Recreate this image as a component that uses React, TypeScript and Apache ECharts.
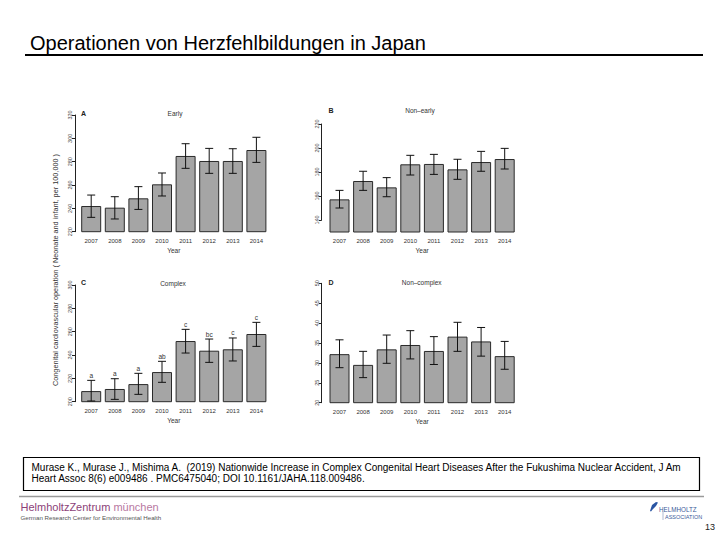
import React, { useEffect, useRef } from "react";
import * as echarts from "echarts";

const years = ["2007", "2008", "2009", "2010", "2011", "2012", "2013", "2014"];

const earlyValues = [242, 240.6, 248.6, 260.6, 284.9, 280.6, 280.6, 290];
const earlyLow = [232.3, 230.9, 239.1, 250.6, 274.3, 270, 270, 279.4];
const earlyHigh = [251.4, 250, 258.6, 270.3, 295.4, 291.4, 291.1, 300.9];
const earlyTicks = [220, 240, 260, 280, 300, 320];

const nonEarlyValues = [157.2, 172.5, 167.2, 186.4, 186.7, 182.2, 188.3, 190.8];
const nonEarlyLow = [150, 164.7, 159.4, 177.5, 178, 173.9, 180.6, 182.5];
const nonEarlyHigh = [164.7, 180.6, 175.3, 193.9, 194.7, 190.6, 197.2, 199.7];
const nonEarlyTicks = [140, 160, 180, 200, 220];

const complexValues = [209.1, 210.9, 215.1, 225.4, 252, 243.7, 244.9, 258];
const complexLow = [200.6, 202, 206.3, 216.6, 241.7, 233.7, 234.9, 247.4];
const complexHigh = [218.3, 219.7, 224.3, 234.6, 262, 253.7, 254.6, 268];
const complexLetters = ["a", "a", "a", "ab", "c", "bc", "c", "c"];
const complexTicks = [200, 220, 240, 260, 280, 300];

const nonComplexValues = [32.2, 29.5, 33.4, 34.5, 33.0, 36.6, 35.4, 31.7];
const nonComplexLow = [28.8, 26.3, 29.9, 31.0, 29.6, 32.9, 31.7, 28.4];
const nonComplexHigh = [35.8, 32.9, 37.0, 38.1, 36.6, 40.2, 38.9, 35.4];
const nonComplexTicks = [20, 25, 30, 35, 40, 45, 50];

const slideTitle = "Operationen von Herzfehlbildungen in Japan";
const yAxisTitle = "Congenital cardiovascular operation ( Neonate and infant, per 100,000 )";
const citationLine1 =
  "Murase K., Murase J., Mishima A.  (2019) Nationwide Increase in Complex Congenital Heart Diseases After the Fukushima Nuclear Accident, J Am";
const citationLine2 = "Heart Assoc 8(6) e009486 . PMC6475040; DOI 10.1161/JAHA.118.009486.";

const FONT = "'Liberation Sans', Arial, Helvetica, sans-serif";
const PANEL_W = 188.8;

type Panel = {
  letter: string;
  title: string;
  values: number[];
  low: number[];
  high: number[];
  letters?: string[];
  ticks: number[];
  barMin: number;
  barLeft: number;
  axisX: number;
  tickTop: number;
  tickBottom: number;
  titleX: number;
  titleY: number;
  letterX: number;
  letterY: number;
};

const panels: Panel[] = [
  {
    letter: "A", title: "Early", values: earlyValues, low: earlyLow, high: earlyHigh,
    ticks: earlyTicks, barMin: 220, barLeft: 79.4, axisX: 75, tickTop: 115, tickBottom: 231.7,
    titleX: 175, titleY: 113, letterX: 81, letterY: 113.3,
  },
  {
    letter: "B", title: "Non–early", values: nonEarlyValues, low: nonEarlyLow, high: nonEarlyHigh,
    ticks: nonEarlyTicks, barMin: 130, barLeft: 327.7, axisX: 321.7, tickTop: 124, tickBottom: 220,
    titleX: 420, titleY: 110, letterX: 328.5, letterY: 110,
  },
  {
    letter: "C", title: "Complex", values: complexValues, low: complexLow, high: complexHigh,
    letters: complexLetters, ticks: complexTicks, barMin: 200, barLeft: 79.4, axisX: 75,
    tickTop: 285, tickBottom: 401.7, titleX: 173, titleY: 283, letterX: 81, letterY: 282.7,
  },
  {
    letter: "D", title: "Non–complex", values: nonComplexValues, low: nonComplexLow, high: nonComplexHigh,
    ticks: nonComplexTicks, barMin: 20, barLeft: 327.7, axisX: 321.7, tickTop: 283.3, tickBottom: 402.7,
    titleX: 421.7, titleY: 282, letterX: 328.5, letterY: 282.7,
  },
];

function buildOption() {
  const grid: any[] = [];
  const xAxis: any[] = [];
  const yAxis: any[] = [];
  const series: any[] = [];
  const graphic: any[] = [];

  panels.forEach((p, i) => {
    const gb = i * 2;
    const ga = i * 2 + 1;
    const tMin = p.ticks[0];
    const tMax = p.ticks[p.ticks.length - 1];
    const step = p.ticks[1] - p.ticks[0];
    const pxPerUnit = (p.tickBottom - p.tickTop) / (tMax - tMin);
    const barHeight = (tMax - p.barMin) * pxPerUnit;

    grid.push({ left: p.barLeft, top: p.tickTop, width: PANEL_W, height: barHeight });
    grid.push({ left: p.axisX, top: p.tickTop, width: 2, height: p.tickBottom - p.tickTop });

    xAxis.push({
      type: "category",
      gridIndex: gb,
      data: years,
      axisLine: { show: false },
      axisTick: { show: false },
      axisLabel: { fontSize: 6, color: "#333", margin: 6, fontFamily: FONT },
      name: "Year",
      nameLocation: "middle",
      nameGap: 15,
      nameTextStyle: { fontSize: 6.5, color: "#333", fontFamily: FONT },
    });
    yAxis.push({ type: "value", gridIndex: gb, min: p.barMin, max: tMax, show: false });

    xAxis.push({ type: "value", gridIndex: ga, show: false, min: 0, max: 1 });
    yAxis.push({
      type: "value",
      gridIndex: ga,
      min: tMin,
      max: tMax,
      interval: step,
      axisLine: { show: true, lineStyle: { color: "#222", width: 1 } },
      axisTick: { show: true, length: 3, lineStyle: { color: "#222", width: 1 } },
      axisLabel: { rotate: 90, fontSize: 5.5, margin: 2, color: "#444", fontFamily: FONT },
      splitLine: { show: false },
    });

    series.push({
      type: "bar",
      xAxisIndex: gb,
      yAxisIndex: gb,
      data: p.values,
      barWidth: 20,
      silent: true,
      itemStyle: { color: "#a5a5a5", borderColor: "#2a2a2a", borderWidth: 1 },
    });

    const letters = p.letters;
    series.push({
      type: "custom",
      xAxisIndex: gb,
      yAxisIndex: gb,
      z: 5,
      silent: true,
      data: p.values.map((_, k) => [k, p.low[k], p.high[k]]),
      renderItem: (params: any, api: any) => {
        const k = api.value(0);
        const lo = api.coord([k, api.value(1)]);
        const hi = api.coord([k, api.value(2)]);
        const x = lo[0];
        const style = { stroke: "#111", lineWidth: 1 };
        const children: any[] = [
          { type: "line", shape: { x1: x, y1: lo[1], x2: x, y2: hi[1] }, style },
          { type: "line", shape: { x1: x - 4, y1: lo[1], x2: x + 4, y2: lo[1] }, style },
          { type: "line", shape: { x1: x - 4, y1: hi[1], x2: x + 4, y2: hi[1] }, style },
        ];
        if (letters) {
          children.push({
            type: "text",
            x,
            y: hi[1] - 1.5,
            style: {
              text: letters[params.dataIndex],
              align: "center",
              verticalAlign: "bottom",
              fontSize: 6.5,
              fontFamily: FONT,
              fill: "#333",
            },
          });
        }
        return { type: "group", children };
      },
    });

    graphic.push({
      type: "text",
      x: p.titleX,
      y: p.titleY,
      style: { text: p.title, align: "center", verticalAlign: "middle", fontSize: 6.5, fontFamily: FONT, fill: "#333" },
    });
    graphic.push({
      type: "text",
      x: p.letterX,
      y: p.letterY,
      style: { text: p.letter, align: "left", verticalAlign: "middle", fontSize: 7, fontWeight: "bold", fontFamily: FONT, fill: "#222" },
    });
  });

  // slide decorations
  graphic.push(
    {
      type: "text",
      x: 30,
      y: 43,
      style: { text: slideTitle, align: "left", verticalAlign: "middle", fontSize: 20, fontFamily: FONT, fill: "#000" },
    },
    { type: "line", shape: { x1: 25, y1: 55, x2: 703, y2: 55 }, style: { stroke: "#000", lineWidth: 2 } },
    {
      type: "text",
      x: 55,
      y: 270,
      rotation: Math.PI / 2,
      style: { text: yAxisTitle, align: "center", verticalAlign: "middle", fontSize: 7.3, fontFamily: FONT, fill: "#333" },
    },
    {
      type: "rect",
      shape: { x: 23.5, y: 457.5, width: 676, height: 33 },
      style: { fill: "none", stroke: "#000", lineWidth: 1.2 },
    },
    {
      type: "text",
      x: 31.5,
      y: 467.7,
      style: { text: citationLine1, align: "left", verticalAlign: "middle", fontSize: 10, fontFamily: FONT, fill: "#000" },
    },
    {
      type: "text",
      x: 31.5,
      y: 478.5,
      style: { text: citationLine2, align: "left", verticalAlign: "middle", fontSize: 10, fontFamily: FONT, fill: "#000" },
    },
    { type: "line", shape: { x1: 19, y1: 496.5, x2: 704, y2: 496.5 }, style: { stroke: "#9a9a9a", lineWidth: 1.5 } },
    {
      type: "text",
      x: 20.5,
      y: 507,
      style: {
        text: "{a|HelmholtzZentrum }{b|münchen}",
        align: "left",
        verticalAlign: "middle",
        rich: {
          a: { fontSize: 11, fontFamily: FONT, fill: "#8c3f78", color: "#8c3f78" },
          b: { fontSize: 11, fontFamily: FONT, fill: "#b7789f", color: "#b7789f" },
        },
      },
    },
    {
      type: "text",
      x: 20.5,
      y: 517,
      style: { text: "German Research Center for Environmental Health", align: "left", verticalAlign: "middle", fontSize: 6.2, fontFamily: FONT, fill: "#555" },
    },
    {
      type: "polygon",
      shape: { points: [[650, 511], [652, 505], [656, 502], [658, 502.5], [656, 506], [653, 509], [651, 511.5]] },
      style: { fill: "#2a55a3" },
    },
    {
      type: "text",
      x: 659,
      y: 509,
      style: { text: "HELMHOLTZ", align: "left", verticalAlign: "middle", fontSize: 6.3, fontFamily: FONT, fill: "#3a5a9a" },
    },
    { type: "line", shape: { x1: 663, y1: 511.5, x2: 663, y2: 520 }, style: { stroke: "#7a8fb8", lineWidth: 0.6 } },
    {
      type: "text",
      x: 665,
      y: 516.5,
      style: { text: "ASSOCIATION", align: "left", verticalAlign: "middle", fontSize: 5.5, fontFamily: FONT, fill: "#3a5a9a" },
    },
    {
      type: "text",
      x: 715,
      y: 527,
      style: { text: "13", align: "right", verticalAlign: "middle", fontSize: 9, fontFamily: FONT, fill: "#222" },
    }
  );

  return {
    animation: false,
    backgroundColor: "#ffffff",
    textStyle: { fontFamily: FONT },
    grid,
    xAxis,
    yAxis,
    series,
    graphic,
  };
}

export default function App() {
  const ref = useRef<HTMLDivElement>(null);
  useEffect(() => {
    if (!ref.current) return;
    const chart = echarts.init(ref.current, null, { renderer: "svg" });
    chart.setOption(buildOption());
    return () => chart.dispose();
  }, []);
  return (
    <div
      ref={ref}
      style={{ position: "absolute", left: 0, top: 0, width: 720, height: 540, background: "#fff" }}
    />
  );
}
